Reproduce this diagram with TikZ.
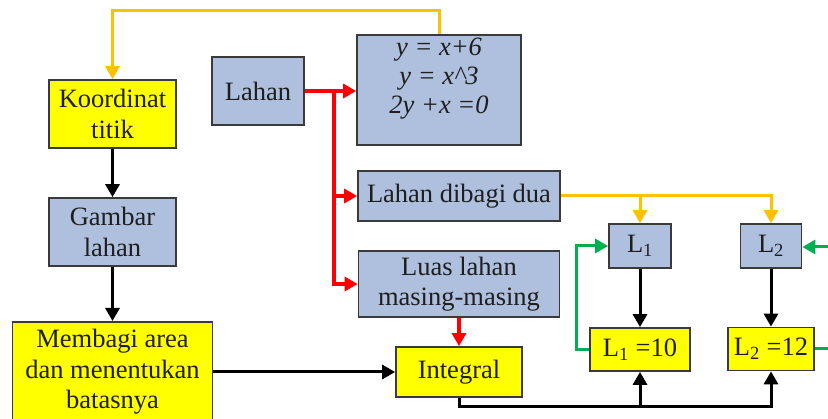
\documentclass[tikz,border=0pt]{standalone}
\usepackage{fontspec}
\setmainfont{Liberation Serif}
\usetikzlibrary{arrows.meta}
\definecolor{boxblue}{HTML}{AEC0DE}
\definecolor{boxyel}{HTML}{FFFF00}
\definecolor{edge}{HTML}{3A3A3A}
\definecolor{txt}{HTML}{1E1E1E}
\definecolor{lineylw}{HTML}{FFC000}
\definecolor{linered}{HTML}{FF0000}
\definecolor{linegrn}{HTML}{00B050}
\begin{document}
\begin{tikzpicture}[x=1pt,y=-1pt,
  base/.style={draw=edge, line width=1.7pt, inner sep=0pt, align=center, text=txt,
    font=\fontsize{26.5}{30.5}\selectfont},
  bluebox/.style={base, fill=boxblue},
  yelbox/.style={base, fill=boxyel},
  tip/.style={-{Triangle[length=13pt,width=14pt]}},
  blk/.style={line width=3pt, draw=black},
  red/.style={line width=3.2pt, draw=linered},
  ylw/.style={line width=3pt, draw=lineylw},
  grn/.style={line width=3pt, draw=linegrn},
]
\useasboundingbox (0,0) rectangle (828,419);

% nodes
\node[yelbox, minimum width=127pt, minimum height=68pt] (koord) at (112.5,114) {Koordinat\\titik};
\node[bluebox, minimum width=127pt, minimum height=68pt] (gambar) at (112.5,232) {Gambar\\lahan};
\node[yelbox, minimum width=200pt, minimum height=100pt, anchor=north] (membagi) at (112.5,321) {Membagi area\\dan menentukan\\batasnya};
\node[bluebox, minimum width=92pt, minimum height=68pt] (lahan) at (258,91) {Lahan};
\node[bluebox, minimum width=164pt, minimum height=110pt] (eq) at (439,90) {};
\node[base, draw=none, font=\fontsize{26.5}{29}\selectfont\itshape] (eqtext) at (439,79) {y = x+6\\y = x\^{}3\\2y +x =0};
\node[bluebox, minimum width=202pt, minimum height=50pt] (dibagi) at (459,196) {Lahan dibagi dua};
\node[bluebox, minimum width=201pt, minimum height=66pt] (luas) at (459,284) {Luas lahan\\masing-masing};
\node[yelbox, minimum width=126pt, minimum height=50pt] (integral) at (459,372) {Integral};
\node[bluebox, minimum width=62pt, minimum height=44pt] (la) at (640,246) {L\textsubscript{1}};
\node[bluebox, minimum width=61pt, minimum height=44pt] (lb) at (771,246) {L\textsubscript{2}};
\node[yelbox, minimum width=100pt, minimum height=43pt] (lav) at (640,349.5) {L\textsubscript{1} =10};
\node[yelbox, minimum width=86pt, minimum height=43pt] (lbv) at (771,349) {L\textsubscript{2} =12};

\coordinate (top) at (0,11);
\coordinate (rsplit) at (334,91);
\coordinate (bot) at (0,407);
\coordinate (gsplit) at (576,0);
\coordinate (rin) at (830,247);
\coordinate (rout) at (830,349);

% yellow top
\draw[ylw, tip] (eq.north) -- (eq.north |- top) -| (koord.north);
% black left column
\draw[blk, tip] (koord.south) -- (gambar.north);
\draw[blk, tip] (gambar.south) -- (membagi.north);
\draw[blk, tip] (membagi.east |- integral.west) -- (integral.west);
% red
\draw[red, tip] (lahan.east) -- (eq.west |- lahan.east);
\draw[red, tip] (rsplit) |- (dibagi.west);
\draw[red, tip] (rsplit) |- (luas.west);
\draw[red, tip] (luas.south) -- (integral.north);
% yellow to L1, L2
\draw[ylw, tip] (dibagi.east) -| (lb.north);
\draw[ylw, tip] (la.north |- dibagi.east) -- (la.north);
% black L to values
\draw[blk, tip] (la.south) -- (lav.north);
\draw[blk, tip] (lb.south) -- (lbv.north);
% black bottom
\draw[blk, tip] (integral.south) -- (integral.south |- bot) -| (lbv.south);
\draw[blk, tip] (lav.south |- bot) -- (lav.south);
% green
\draw[grn, tip] (lav.west) -- (gsplit |- lav.west) |- (la.west);
\draw[grn, tip] (rin) -- (lb.east |- rin);
\draw[grn] (lbv.east) -- (rout);
\end{tikzpicture}
\end{document}
